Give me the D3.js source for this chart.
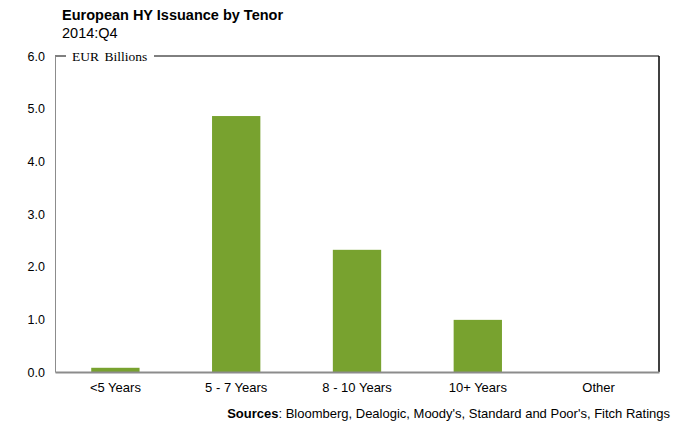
<!DOCTYPE html>
<html>
<head>
<meta charset="utf-8">
<script src="https://cdn.jsdelivr.net/npm/d3@7"></script>
<style>
  body { margin: 0; background: #fff; }
  text { font-family: "Liberation Sans", Arial, sans-serif; fill: #000; }
</style>
</head>
<body>
<div id="chart"></div>
<script>
var categories = ["<5 Years", "5 - 7 Years", "8 - 10 Years", "10+ Years", "Other"];
var values = [0.08, 4.86, 2.32, 0.99, 0];
var yTicks = [0, 1, 2, 3, 4, 5, 6];

var width = 685,
height = 428;

var plot = {left: 55, right: 659, top: 56, bottom: 372};

var svg = d3.select("#chart")
.append("svg")
.attr("width", width)
.attr("height", height);

var x = d3.scaleBand()
.domain(categories)
.range([plot.left, plot.right])
.paddingInner(0.6)
.paddingOuter(0.3);

var y = d3.scaleLinear()
.domain([0, 6])
.range([plot.bottom, plot.top]);

// title
svg.append("text")
.attr("x", 62)
.attr("y", 20)
.style("font-size", "14.5px")
.style("font-weight", "bold")
.text("European HY Issuance by Tenor");

svg.append("text")
.attr("x", 62)
.attr("y", 38)
.style("font-size", "14.5px")
.text("2014:Q4");

// bars
svg.selectAll("rect.bar")
.data(values)
.enter()
.append("rect")
.attr("class", "bar")
.attr("x", function(d, i) { return x(categories[i]); })
.attr("width", x.bandwidth())
.attr("y", function(d) { return y(d); })
.attr("height", function(d) { return y(0) - y(d); })
.style("fill", "#78a22f");

// frame: top and right in black, left and bottom in grey
svg.append("line")
.attr("x1", plot.left).attr("y1", plot.top)
.attr("x2", 66).attr("y2", plot.top)
.attr("stroke", "#000").attr("stroke-width", 1);
svg.append("line")
.attr("x1", 154).attr("y1", plot.top)
.attr("x2", plot.right).attr("y2", plot.top)
.attr("stroke", "#000").attr("stroke-width", 1);
svg.append("line")
.attr("x1", plot.right).attr("y1", plot.top)
.attr("x2", plot.right).attr("y2", plot.bottom)
.attr("stroke", "#000").attr("stroke-width", 1.5);

// y axis
var yAxis = d3.axisLeft(y)
.tickValues(yTicks)
.tickSize(0)
.tickPadding(10)
.tickFormat(d3.format(".1f"));

var gy = svg.append("g")
.attr("transform", "translate(" + plot.left + ",0)")
.call(yAxis);
gy.select(".domain").attr("stroke", "#8c8c8c");
gy.selectAll("text")
.style("font-size", "12.5px")
.style("font-family", "Liberation Sans, Arial, sans-serif");

// x axis
var xAxis = d3.axisBottom(x)
.tickSize(0)
.tickPadding(11);

var gx = svg.append("g")
.attr("transform", "translate(0," + plot.bottom + ")")
.call(xAxis);
gx.select(".domain").attr("stroke", "#8c8c8c").attr("stroke-width", 2);
gx.selectAll("text")
.style("font-size", "13px")
.style("font-family", "Liberation Sans, Arial, sans-serif");

// unit label
svg.append("text")
.attr("x", 72)
.attr("y", 61)
.style("font-family", "Liberation Serif, Times New Roman, serif")
.style("font-size", "13.5px")
.style("word-spacing", "2px")
.text("EUR Billions");

// sources
var src = svg.append("text")
.attr("x", 670)
.attr("y", 418)
.attr("text-anchor", "end")
.style("font-size", "13px");
src.append("tspan").style("font-weight", "bold").text("Sources");
src.append("tspan").text(": Bloomberg, Dealogic, Moody's, Standard and Poor's, Fitch Ratings");
</script>
</body>
</html>
